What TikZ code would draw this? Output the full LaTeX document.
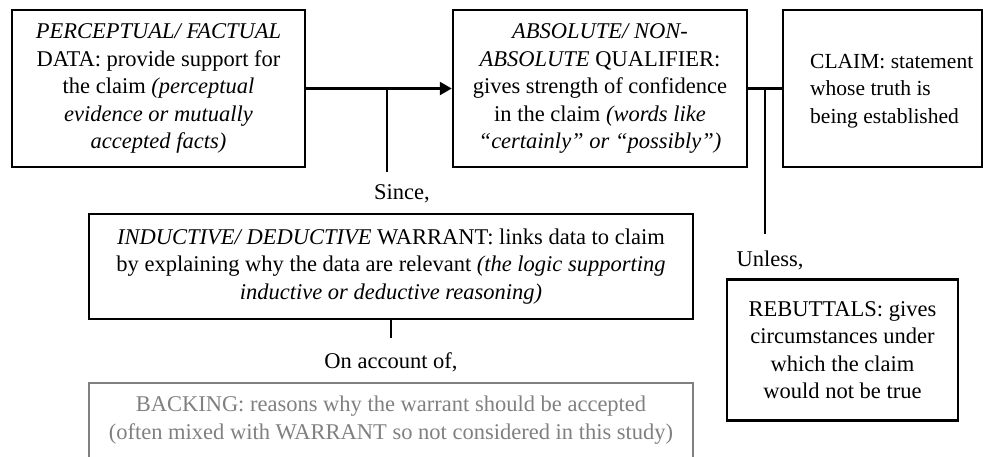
\documentclass[tikz,border=0pt]{standalone}
\usepackage{fontspec}
\setmainfont{Liberation Serif}
\usetikzlibrary{arrows.meta}
\definecolor{backgray}{RGB}{128,128,128}
\tikzset{
  boxed/.style={draw=black, line width=2.5pt, rectangle, inner sep=0pt, align=center,
    font=\fontsize{22.5}{27.5}\selectfont},
  plain/.style={inner sep=0pt, align=center, font=\fontsize{22.5}{27.5}\selectfont},
  conn/.style={draw=black, line width=2.5pt},
}
\begin{document}
\begin{tikzpicture}[x=1pt,y=-1pt]
\useasboundingbox (0,0) rectangle (983,456);
% boxes
\node[boxed, minimum width=293pt, minimum height=157pt] (data) at (158.5,88.5)
  {\textit{PERCEPTUAL/ FACTUAL}\\DATA: provide support for\\the claim \textit{(perceptual}\\\textit{evidence or mutually}\\\textit{accepted facts)}};
\node[boxed, minimum width=294pt, minimum height=157pt] (qual) at (600,88.5)
  {\textit{ABSOLUTE/ NON-}\\\textit{ABSOLUTE} QUALIFIER:\\gives strength of confidence\\in the claim \textit{(words like}\\\textit{“certainly” or “possibly”)}};
\node[boxed, minimum width=199pt, minimum height=157pt] (claim) at (882.5,88.5) {};
\node[plain, align=left, anchor=west, font=\fontsize{21.5}{27.5}\selectfont] (claimtext) at (810,91)
  {CLAIM: statement\\whose truth is\\being established};
\node[boxed, minimum width=604pt, minimum height=105pt] (warrant) at (391,266.5)
  {\textit{INDUCTIVE/ DEDUCTIVE} WARRANT: links data to claim\\by explaining why the data are relevant \textit{(the logic supporting}\\\textit{inductive or deductive reasoning)}};
\node[boxed, minimum width=231pt, minimum height=141pt] (rebut) at (842.5,350)
  {REBUTTALS: gives\\circumstances under\\which the claim\\would not be true};
% backing (cut off at the bottom)
\draw[backgray, line width=2pt] (89,460) -- (89,383) -- (693,383) -- (693,460);
\node[plain, text=backgray] (backing) at (391,420)
  {BACKING: reasons why the warrant should be accepted\\(often mixed with WARRANT so not considered in this study)};
% connectors
\draw[conn, -{Triangle[length=12pt,width=13pt]}] (data.east) -- (qual.west);
\coordinate (j1) at (387,88.5);
\coordinate (sinceEnd) at (387,172);
\draw[conn] (j1) -- (sinceEnd);
\node[plain] (since) at (402,194) {Since,};
\draw[conn] (qual.east) -- (claim.west);
\coordinate (j2) at (765,88.5);
\coordinate (unlessEnd) at (765,234);
\draw[conn] (j2) -- (unlessEnd);
\node[plain] (unless) at (770,260) {Unless,};
\coordinate (acctEnd) at (391,338);
\draw[conn] (warrant.south) -- (acctEnd);
\node[plain] (account) at (391,362) {On account of,};
\end{tikzpicture}
\end{document}
